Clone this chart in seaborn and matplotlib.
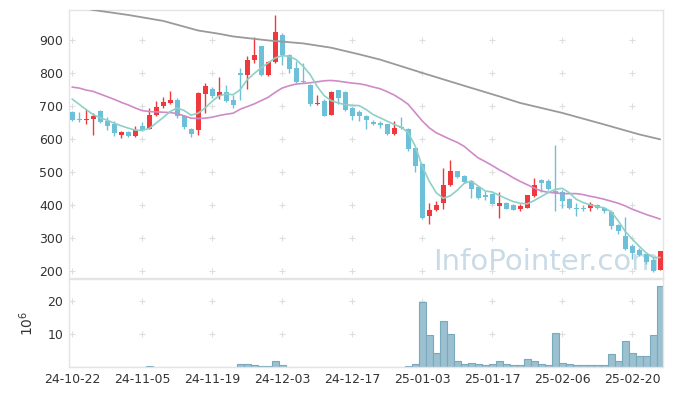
import numpy as np
import pandas as pd
import seaborn as sns
import matplotlib.pyplot as plt

# daily candles, price in won, one entry per trading day
open_ = [681, 660, 656, 661, 686, 654, 644, 613, 621, 609, 639, 631, 672, 699, 708, 717, 671, 629, 627, 737,
         752, 731, 742, 719, 800, 792, 838, 882, 792, 832, 915, 855, 815, 776, 764, 705, 714, 674, 747, 743,
         694, 683, 671, 651, 647, 644, 614, 637, 629, 572, 524, 368, 386, 408, 461, 502, 488, 473, 456, 430,
         435, 398, 408, 401, 388, 393, 428, 477, 473, 443, 440, 418, 393, 391, 391, 400, 393, 380, 340, 306,
         277, 265, 252, 234, 205]
high = [685, 683, 690, 680, 688, 667, 654, 624, 625, 639, 650, 694, 714, 727, 746, 724, 674, 633, 742, 770,
        757, 788, 764, 734, 815, 852, 908, 882, 836, 975, 920, 858, 835, 830, 766, 734, 721, 746, 747, 744,
        697, 689, 673, 657, 654, 646, 654, 667, 633, 573, 527, 406, 413, 511, 536, 503, 491, 477, 458, 443,
        437, 440, 411, 403, 403, 432, 483, 479, 479, 581, 447, 422, 408, 400, 410, 403, 395, 384, 342, 363,
        283, 270, 257, 243, 263]
low = [655, 652, 645, 611, 648, 627, 609, 604, 606, 607, 624, 629, 669, 694, 707, 664, 630, 606, 611, 679,
       725, 721, 711, 694, 719, 752, 830, 789, 791, 830, 825, 800, 770, 769, 701, 704, 671, 672, 706, 686,
       658, 654, 631, 641, 634, 612, 612, 629, 563, 499, 358, 343, 382, 390, 459, 482, 467, 423, 418, 416,
       403, 360, 387, 384, 381, 391, 425, 440, 447, 381, 393, 389, 366, 383, 383, 389, 377, 328, 313, 264,
       237, 246, 222, 197, 203]
close = [657, 657, 662, 669, 651, 639, 619, 621, 609, 627, 627, 674, 697, 711, 717, 669, 636, 614, 740, 761,
         729, 743, 714, 704, 792, 840, 855, 792, 832, 922, 855, 813, 771, 771, 707, 709, 671, 743, 724, 689,
         671, 669, 657, 645, 641, 614, 634, 633, 569, 517, 361, 386, 400, 460, 502, 485, 470, 450, 423, 426,
         405, 408, 390, 386, 398, 430, 460, 468, 450, 438, 413, 391, 390, 388, 403, 391, 381, 338, 323, 267,
         255, 249, 227, 202, 261]

# volume, millions of shares
volume = [0.2, 0.05, 0.05, 0.2, 0.05, 0.05, 0.2, 0.05, 0.05, 0.05, 0.2, 0.5, 0.05, 0.05, 0.05, 0.05, 0.05,
          0.05, 0.2, 0.2, 0.05, 0.2, 0.05, 0.05, 1.1, 1.1, 0.8, 0.3, 0.3, 1.8, 0.6, 0.05, 0.05, 0.05, 0.2,
          0.05, 0.2, 0.2, 0.2, 0.2, 0.2, 0.05, 0.05, 0.05, 0.05, 0.05, 0.05, 0.2, 0.5, 0.9, 19.9, 9.8, 4.3,
          14.1, 10.1, 1.8, 0.9, 1.2, 0.9, 0.6, 0.9, 1.8, 0.9, 0.6, 0.6, 2.4, 1.8, 0.9, 0.6, 10.4, 1.2, 0.9,
          0.6, 0.6, 0.6, 0.6, 0.6, 4.0, 1.8, 8.0, 4.3, 3.4, 3.4, 9.8, 24.8]

# moving averages as drawn
ma5 = [721, 705, 689, 674, 664, 657, 648, 640, 633, 627, 626, 632, 648, 665, 683, 694, 686, 672, 678, 694,
       714, 731, 736, 734, 749, 779, 798, 815, 830, 845, 852, 850, 840, 820, 795, 759, 731, 716, 709, 704,
       702, 701, 689, 674, 664, 654, 644, 636, 619, 579, 518, 473, 438, 421, 428, 445, 466, 473, 458, 443,
       440, 430, 420, 411, 406, 404, 414, 426, 438, 448, 451, 438, 418, 408, 401, 396, 392, 380, 353, 321,
       298, 276, 256, 242, 242]
ma20 = [757, 754, 748, 744, 736, 728, 720, 711, 703, 694, 686, 683, 682, 681, 680, 677, 670, 663, 662, 663,
        666, 671, 675, 678, 690, 698, 706, 716, 726, 741, 754, 761, 766, 768, 770, 773, 776, 777, 775, 772,
        769, 767, 763, 757, 752, 743, 733, 720, 705, 680, 655, 634, 619, 609, 599, 590, 578, 560, 543, 532,
        520, 507, 496, 483, 472, 462, 452, 443, 439, 437, 435, 435, 435, 432, 427, 423, 418, 412, 406, 398,
        388, 380, 372, 365, 358]
ma_long_day = [0, 3, 8, 13, 18, 21, 23, 28, 33, 37, 41, 44, 50, 56, 61, 64, 70, 76, 81, 84]
ma_long = [1003, 990, 975, 957, 928, 918, 910, 898, 889, 876, 856, 840, 800, 761, 729, 709, 679, 644, 614, 599]

tick_labels = ['24-10-22', '24-11-05', '24-11-19', '24-12-03', '24-12-17',
               '25-01-03', '25-01-17', '25-02-06', '25-02-20']

days = np.arange(len(close))
df = pd.DataFrame({'day': days, 'open': open_, 'high': high, 'low': low,
                   'close': close, 'volume': volume, 'ma5': ma5, 'ma20': ma20})

UP = '#ee3a3f'
DOWN = '#6cc0d8'
FRAME = '#e4e4e4'

sns.set_style('white')
plt.rcParams['font.family'] = ['DejaVu Sans']

fig = plt.figure(figsize=(6.73, 3.96), dpi=100)
ax = fig.add_axes([0.1025, 0.298, 0.8826, 0.6768])
axv = fig.add_axes([0.1025, 0.0725, 0.8826, 0.223], sharex=ax)

# candles
up = df['close'] >= df['open']
colors = np.where(up, UP, DOWN)
body = df['close'] - df['open']
body = np.where(body.abs() < 3, np.where(up, 3, -3), body)
ax.vlines(df['day'], df['low'], df['high'], color=colors, lw=1, zorder=2)
ax.bar(df['day'], body, bottom=df['open'], width=0.72, color=colors, lw=0, zorder=3)

sns.lineplot(x=ma_long_day, y=ma_long, color='#9a9a9a', lw=1.3, ax=ax, zorder=4)
sns.lineplot(data=df, x='day', y='ma20', color='#cf8ac8', lw=1.2, ax=ax, zorder=4)
sns.lineplot(data=df, x='day', y='ma5', color='#8fd0c6', lw=1.2, ax=ax, zorder=4)

ax.set_ylim(180, 990)
ax.set_xlim(-0.45, 84.4)
ax.set_yticks(range(200, 1000, 100))
ax.set_xticks(range(0, 90, 10))
ax.set_xlabel('')
ax.set_ylabel('')
ax.tick_params(axis='x', labelbottom=False, length=0)
ax.tick_params(axis='y', length=0, pad=4, labelsize=9, labelcolor='#333333')

ax.text(0.995, 0.03, 'InfoPointer.com', transform=ax.transAxes, ha='right', va='baseline',
        fontsize=21, color='#c9dbe6', zorder=1)

# volume
sns.barplot(data=df, x='day', y='volume', native_scale=True, width=1, color='#9bc0d0',
            edgecolor='#7aa8bc', linewidth=0.8, errorbar=None, saturation=1, ax=axv)
axv.set_ylim(0, 26.8)
axv.set_yticks([10, 20])
axv.set_xticks(range(0, 90, 10))
axv.set_xticklabels(tick_labels)
axv.set_xlim(-0.45, 84.4)
axv.set_xlabel('')
axv.set_ylabel('$10^6$', fontsize=10, color='#333333', labelpad=8)
axv.tick_params(axis='both', length=0, labelsize=9, labelcolor='#333333')
axv.tick_params(axis='y', pad=4)
axv.tick_params(axis='x', pad=4)

# plus-shaped grid marks at tick crossings
for a, ys in ((ax, range(200, 1000, 100)), (axv, [10, 20])):
    gx, gy = np.meshgrid(range(0, 90, 10), list(ys))
    a.scatter(gx.ravel(), gy.ravel(), marker='+', s=18, lw=0.8, color='#dedede', zorder=0)
    for s in a.spines.values():
        s.set_color(FRAME)
        s.set_linewidth(1)

fig.savefig('out.png', dpi=100)
